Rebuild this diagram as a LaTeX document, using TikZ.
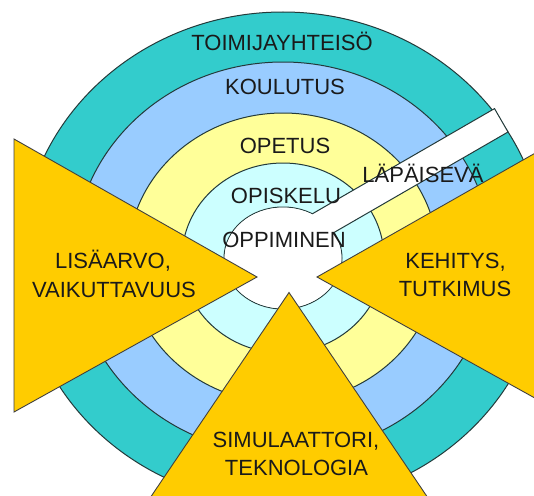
\documentclass[tikz,border=0pt]{standalone}
\usepackage{fontspec}
\setmainfont{Liberation Sans}
\definecolor{ringA}{HTML}{33CCCC}
\definecolor{ringB}{HTML}{99CCFF}
\definecolor{ringC}{HTML}{FFFF99}
\definecolor{ringD}{HTML}{CCFFFF}
\definecolor{gold}{HTML}{FFCC00}
\definecolor{edgecol}{HTML}{233A3A}
\definecolor{txt}{HTML}{1A1A1A}
\tikzset{
  ring/.style={draw=edgecol, line width=1pt},
  wedge/.style={fill=gold, draw=black!75, line width=0.9pt, line join=miter},
  lbl/.style={anchor=base, inner sep=0pt, text=txt, font=\fontsize{22}{26}\selectfont},
}
\begin{document}
\begin{tikzpicture}[x=1pt,y=-1pt]
\useasboundingbox (0,0) rectangle (534,495);
\clip (0,0) rectangle (534,495);
\fill[white] (0,0) rectangle (534,495);
\coordinate (c) at (283,258);
% concentric rings
\path[ring, fill=ringA] (c) ellipse [x radius=262pt, y radius=246pt];
\path[ring, fill=ringB] (c) ellipse [x radius=209pt, y radius=196pt];
\path[ring, fill=ringC] (c) ellipse [x radius=155pt, y radius=145pt];
\path[ring, fill=ringD] (c) ellipse [x radius=101pt, y radius=95pt];
\path[ring, fill=white] (c) ellipse [x radius=59pt, y radius=51pt];
% white strip
\coordinate (s1) at (300.2,252);
\coordinate (s2) at (508,132);
\coordinate (s3) at (494.5,108.6);
\coordinate (s4) at (286.7,228.6);
\path[ring, fill=white] (s1) -- (s2) -- (s3) -- (s4) -- cycle;
\fill[white] (c) ellipse [x radius=58.4pt, y radius=50.4pt];
% triangles
\path[wedge] (14,139) -- (257,277) -- (14,412) -- cycle;
\path[wedge] (560,139) -- (317,277) -- (560,412) -- cycle;
\path[wedge] (289,292.5) -- (121.6,540) -- (456.4,540) -- cycle;
% labels
\node[lbl] (toimi) at (282,50) {TOIMIJAYHTEISÖ};
\node[lbl] (koulu) at (285,94) {KOULUTUS};
\node[lbl] (opetus) at (285,153) {OPETUS};
\node[lbl] (opisk) at (286,203) {OPISKELU};
\node[lbl] (oppim) at (284,247) {OPPIMINEN};
\node[lbl] (lapai) at (423,182) {LÄPÄISEVÄ};
\node[lbl] (lisa1) at (113,268) {LISÄARVO,};
\node[lbl] (lisa2) at (114,297) {VAIKUTTAVUUS};
\node[lbl] (kehi1) at (455.5,268) {KEHITYS,};
\node[lbl] (kehi2) at (455,296) {TUTKIMUS};
\node[lbl] (simu1) at (296,447) {SIMULAATTORI,};
\node[lbl] (simu2) at (296.5,475) {TEKNOLOGIA};
\end{tikzpicture}
\end{document}
